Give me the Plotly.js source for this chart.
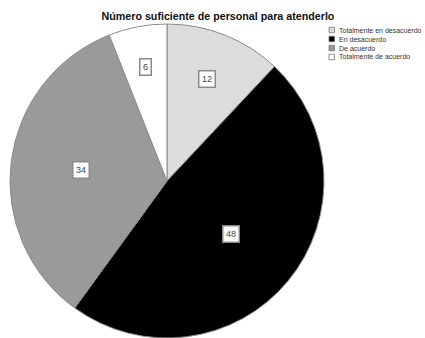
<!DOCTYPE html>
<html>
<head>
<meta charset="utf-8">
<script src="https://cdn.plot.ly/plotly-3.0.1.min.js"></script>
<style>html,body{margin:0;padding:0;background:#fff;overflow:hidden}#chart{width:425px;height:338px}</style>
</head>
<body>
<div id="chart"></div>
<script>
const categories = ["Totalmente en desacuerdo", "En desacuerdo", "De acuerdo", "Totalmente de acuerdo"];
const values = [12, 48, 34, 6];
const colors = ["#dcdcdc", "#000000", "#9a9a9a", "#ffffff"];
const chartTitle = "Número suficiente de personal para atenderlo";

const W = 425, H = 338;
const pieLeft = 10, pieTop = 24, pieSize = 314;
const domX = [pieLeft / W, (pieLeft + pieSize) / W];
const domY = [1 - (pieTop + pieSize) / H, 1 - pieTop / H];
const labelRadius = [0.70, 0.53, 0.55, 0.74];

const total = values.reduce((a, b) => a + b, 0);
const cx = pieLeft + pieSize / 2, cy = pieTop + pieSize / 2, R = pieSize / 2;
const annotations = [];
let cum = 0;
values.forEach((v, i) => {
  const mid = (cum + v / 2) / total * 2 * Math.PI;
  cum += v;
  const px = cx + R * labelRadius[i] * Math.sin(mid);
  const py = cy - R * labelRadius[i] * Math.cos(mid);
  annotations.push({
    x: px / W, y: 1 - py / H, xref: 'paper', yref: 'paper',
    xanchor: 'center', yanchor: 'middle',
    text: String(v), showarrow: false,
    font: {family: 'Liberation Sans, Arial, sans-serif', size: 9, color: '#444'},
    bgcolor: '#ffffff', bordercolor: '#8a8a8a', borderwidth: 1.5, borderpad: 2.5
  });
});

const shapes = [];
categories.forEach((c, i) => {
  const rowY = 30 + i * 9;
  shapes.push({
    type: 'rect', xref: 'paper', yref: 'paper',
    x0: 329 / W, x1: 334.5 / W, y0: 1 - (rowY + 2.75) / H, y1: 1 - (rowY - 2.75) / H,
    fillcolor: colors[i], line: {color: '#777', width: 0.8}
  });
  annotations.push({
    x: 336.5 / W, y: 1 - rowY / H, xref: 'paper', yref: 'paper',
    xanchor: 'left', yanchor: 'middle', text: c, showarrow: false,
    font: {family: 'Liberation Sans, Arial, sans-serif', size: 7, color: '#333'}
  });
});

const data = [{
  type: 'pie',
  labels: categories,
  values: values,
  sort: false,
  direction: 'clockwise',
  rotation: 0,
  marker: {colors: colors, line: {color: '#8a8a8a', width: 1}},
  textinfo: 'none',
  hoverinfo: 'label+value',
  domain: {x: domX, y: domY}
}];

const layout = {
  width: W, height: H,
  margin: {l: 0, r: 0, t: 0, b: 0},
  paper_bgcolor: '#fff',
  showlegend: false,
  title: {
    text: '<b>' + chartTitle + '</b>',
    x: 218 / W, xanchor: 'center', xref: 'paper',
    y: 1 - 16 / H, yanchor: 'middle', yref: 'paper',
    font: {family: 'Liberation Sans, Arial, sans-serif', size: 10.7, color: '#111'}
  },
  annotations: annotations,
  shapes: shapes
};

Plotly.newPlot('chart', data, layout, {displayModeBar: false, staticPlot: true});
</script>
</body>
</html>
